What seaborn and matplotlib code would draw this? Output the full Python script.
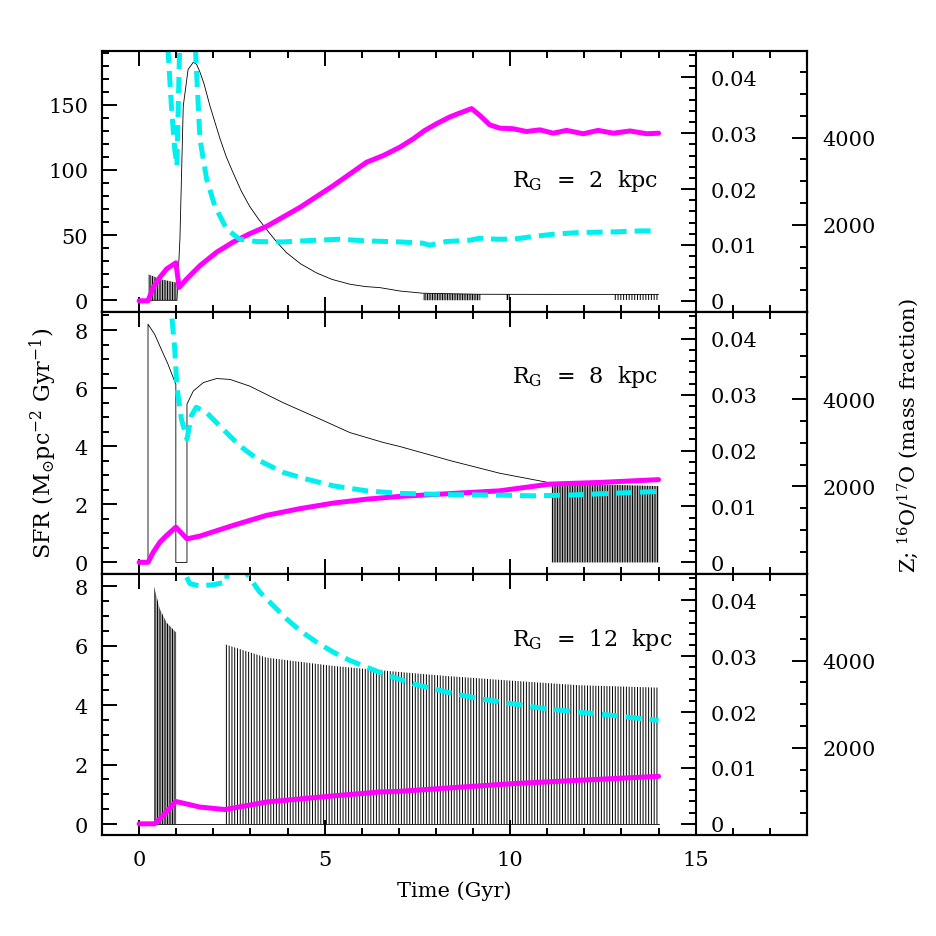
import matplotlib
matplotlib.use('Agg')
import matplotlib.pyplot as plt
import seaborn as sns
from matplotlib.ticker import MultipleLocator, FixedLocator, FuncFormatter

# ---------------- data ----------------
# R_G = 2 kpc : star formation rate (thin black)
sfr2_t = [0.0, 0.24, 1.02, 1.10, 1.19, 1.32, 1.46, 1.55, 1.64, 1.75, 1.91, 2.05, 2.18, 2.35,
          2.53, 2.75, 2.98, 3.2, 3.43, 3.7, 3.97, 4.35, 4.78, 5.2, 5.68, 6.1, 6.49, 7.03,
          7.65, 9.18, 11.0, 14.0]
sfr2 = [0, 0, 0, 47, 149, 177, 182.6, 181, 175, 166, 149, 136, 124, 110,
        98, 84, 72, 63, 54.5, 45, 36.6, 28, 21, 16, 12.3, 10.5, 9.7, 7.1,
        5.4, 4.6, 4.5, 4.5]
# bursty intervals (SFR switching on/off): times, envelope, hatch density
burst2_t = [[0.24, 0.6, 1.02], [7.65, 9.2], [9.9, 10.0], [12.8, 14.0]]
burst2_top = [[20, 16, 13.5], [5.2, 4.6], [4.6, 4.6], [4.5, 4.5]]
burst2_dens = [10, 10, 10, 6]

# metallicity Z (magenta)
z2_t = [0, 0.24, 0.38, 0.56, 0.74, 0.99, 1.08, 1.28, 1.64, 2.09, 2.53, 2.98, 3.43, 4.33,
        5.23, 6.13, 6.58, 7.03, 7.39, 7.7, 8.02, 8.37, 8.64, 8.96, 9.18, 9.45, 9.72,
        10.08, 10.44, 10.8, 11.16, 11.52, 11.97, 12.37, 12.78, 13.23, 13.68, 14.0]
z2 = [0, 0, 0.0024, 0.0042, 0.0057, 0.0068, 0.0024, 0.0039, 0.0063, 0.0087, 0.0105,
      0.012, 0.0133, 0.0167, 0.0206, 0.0248, 0.026, 0.0275, 0.029, 0.0305, 0.0317,
      0.0329, 0.0336, 0.0344, 0.0332, 0.0315, 0.0309, 0.0308, 0.0303, 0.0306, 0.030,
      0.0305, 0.0299, 0.0305, 0.030, 0.0304, 0.0299, 0.030]
# 16O/17O (cyan dashed)
r2_t = [0.70, 0.78, 0.87, 0.96, 1.02, 1.09, 1.2, 1.45, 1.52, 1.64, 1.82, 2.04, 2.36, 2.71,
        3.16, 3.88, 4.78, 5.41, 6.13, 7.03, 7.65, 7.83, 8.28, 8.91, 9.18, 9.63, 10.08,
        10.53, 11.16, 11.88, 12.78, 13.5, 14.0]
r2 = [9000, 6000, 4732, 3737, 3354, 6000, 8000, 8000, 6000, 3967, 3048, 2435, 1900, 1670,
      1617, 1608, 1647, 1670, 1631, 1608, 1578, 1532, 1617, 1647, 1693, 1670, 1670,
      1723, 1785, 1824, 1838, 1861, 1861]

# R_G = 8 kpc
sfr8_t = [0, 0.24, 0.24, 0.42, 0.60, 0.78, 0.99, 0.99, 1.29, 1.29, 1.46, 1.73, 2.09, 2.45,
          2.98, 3.88, 4.78, 5.68, 6.58, 7.03, 8.4, 9.72, 11.12]
sfr8 = [0, 0, 8.2, 7.85, 7.33, 6.82, 6.13, 0, 0, 5.45, 5.9, 6.19, 6.33, 6.3,
        6.07, 5.5, 4.99, 4.47, 4.13, 3.99, 3.5, 3.07, 2.73]
burst8_t = [[11.12, 12.5, 14.0]]
burst8_top = [[2.73, 2.68, 2.63]]
burst8_dens = [10]
z8_t = [0, 0.24, 0.38, 0.56, 0.74, 0.99, 1.29, 1.64, 2.53, 3.43, 4.33, 5.23, 6.13, 7.03,
        9.72, 11.07, 12.42, 14.0]
z8 = [0, 0, 0.0018, 0.0036, 0.0048, 0.0063, 0.0042, 0.0047, 0.0066, 0.0084, 0.0096,
      0.0106, 0.0113, 0.0118, 0.0128, 0.0140, 0.0143, 0.0148]
r8_t = [0.80, 0.87, 0.96, 1.02, 1.14, 1.29, 1.41, 1.54, 1.81, 2.17, 2.71, 3.25, 3.88, 4.51,
        5.23, 6.13, 7.03, 8.4, 9.72, 10.62, 11.52, 12.87, 14.0]
r8 = [7500, 6000, 5153, 4272, 3544, 3085, 3620, 3813, 3698, 3390, 2931, 2586, 2320, 2166,
      2012, 1897, 1838, 1810, 1798, 1782, 1798, 1844, 1883]

# R_G = 12 kpc
sfr12_t = [0, 14.0]
sfr12 = [0, 0]
burst12_t = [[0.40, 0.56, 0.74, 1.0],
             [2.31, 3.43, 5.23, 6.98, 8.29, 10.08, 11.88, 14.0]]
burst12_top = [[8.0, 7.23, 6.78, 6.44],
               [6.05, 5.6, 5.32, 5.12, 4.98, 4.82, 4.67, 4.59]]
burst12_dens = [10, 6]
z12_t = [0, 0.42, 0.65, 0.99, 1.64, 2.31, 3.43, 5.23, 6.49, 6.98, 10.08, 14.0]
z12 = [0, 0, 0.0015, 0.0040, 0.0030, 0.00256, 0.0039, 0.005, 0.0057, 0.0058, 0.0072, 0.0085]
r12_t = [1.10, 1.23, 1.37, 1.64, 2.0, 2.36, 2.42, 2.85, 2.9, 3.25, 3.61, 3.97, 4.33, 4.78,
         5.23, 5.68, 6.13, 6.58, 6.98, 7.39, 8.29, 9.18, 10.08, 10.98, 11.88, 12.78, 14.0]
r12 = [7000, 6000, 5765, 5713, 5743, 5804, 7000, 7000, 6000, 5575, 5267, 4962, 4693, 4426,
       4197, 4004, 3852, 3698, 3583, 3468, 3278, 3124, 3009, 2894, 2818, 2742, 2627]

panel_labels = ['2', '8', '12']
sfr_lims = [(-9, 191.6), (-0.38, 8.62), (-0.37, 8.43)]
sfr_major = [50, 2, 2]
sfr_minor = [10, 0.5, 0.5]
label_y = [88, 6.2, 6.02]
z_lims = (-0.002, 0.0448)
ratio_lims = (0, 6000)

panels = [
    (sfr2_t, sfr2, burst2_t, burst2_top, burst2_dens, z2_t, z2, r2_t, r2),
    (sfr8_t, sfr8, burst8_t, burst8_top, burst8_dens, z8_t, z8, r8_t, r8),
    (sfr12_t, sfr12, burst12_t, burst12_top, burst12_dens, z12_t, z12, r12_t, r12),
]

# ---------------- style ----------------
sns.set_style('ticks')
plt.rcParams['font.family'] = ['DejaVu Serif']
plt.rcParams['mathtext.fontset'] = 'dejavuserif'
plt.rcParams['hatch.linewidth'] = 0.7
plt.rcParams['hatch.color'] = 'black'
plt.rcParams['axes.linewidth'] = 1.5
for key in ['axes.edgecolor', 'axes.labelcolor', 'text.color', 'xtick.color', 'ytick.color']:
    plt.rcParams[key] = 'black'

FS = 15
MAGENTA = '#ff00ff'
CYAN = '#00f0f0'

fig = plt.figure(figsize=(9.37, 9.37), dpi=100)
gs = fig.add_gridspec(3, 1, left=102 / 937, right=807 / 937,
                      top=1 - 51.5 / 937, bottom=1 - 836 / 937, hspace=0)

for i, (st, sv, bt, btop, bdens, zt, zv, rt, rv) in enumerate(panels):
    ax = fig.add_subplot(gs[i])
    ax.set_xlim(-1, 18)
    ax.set_ylim(*sfr_lims[i])

    # star formation rate
    sns.lineplot(x=st, y=sv, ax=ax, estimator=None, sort=False, color='black', linewidth=0.6)
    for t_b, top_b, n in zip(bt, btop, bdens):
        ax.fill_between(t_b, 0, top_b, facecolor='none', edgecolor='black',
                        hatch='|' * n, linewidth=0)

    ax.xaxis.set_major_locator(MultipleLocator(5))
    ax.xaxis.set_minor_locator(MultipleLocator(1))
    ax.yaxis.set_major_locator(MultipleLocator(sfr_major[i]))
    ax.yaxis.set_minor_locator(MultipleLocator(sfr_minor[i]))
    ax.yaxis.set_major_formatter(FuncFormatter(lambda v, p: f'{v:g}'))
    ax.tick_params(which='both', direction='in', top=True, bottom=True, left=True,
                   right=False, width=1.4, labelsize=FS)
    ax.tick_params(which='major', length=11)
    ax.tick_params(which='minor', length=5)
    ax.tick_params(axis='y', pad=10)
    ax.tick_params(axis='x', pad=11)
    ax.set_xlabel('')
    ax.set_ylabel('')
    if i < 2:
        ax.tick_params(axis='x', labelbottom=False)
    else:
        ax.set_xlabel('Time (Gyr)', fontsize=FS, labelpad=8)

    # metallicity axis: spine at t = 15
    axz = ax.inset_axes([0, 0, 16 / 19, 1])
    axz.patch.set_alpha(0)
    for s in ['left', 'top', 'bottom']:
        axz.spines[s].set_visible(False)
    axz.spines['right'].set_linewidth(1.5)
    sns.lineplot(x=zt, y=zv, ax=axz, estimator=None, sort=False, color=MAGENTA, linewidth=3.6)
    axz.set_xlim(-1, 15)
    axz.set_ylim(*z_lims)
    axz.set_xticks([])
    axz.set_xlabel('')
    axz.set_ylabel('')
    axz.yaxis.set_ticks_position('right')
    axz.yaxis.set_major_locator(MultipleLocator(0.01))
    axz.yaxis.set_minor_locator(MultipleLocator(0.002))
    axz.yaxis.set_major_formatter(FuncFormatter(lambda v, p: '0' if abs(v) < 1e-9 else f'{v:.2f}'))
    axz.tick_params(axis='y', which='both', direction='in', right=True, left=False,
                    labelright=True, labelleft=False, width=1.4, labelsize=FS, pad=11)
    axz.tick_params(axis='y', which='major', length=11)
    axz.tick_params(axis='y', which='minor', length=5)

    # 16O/17O axis on the far right
    axr = ax.twinx()
    sns.lineplot(x=rt, y=rv, ax=axr, estimator=None, sort=False, color=CYAN,
                 linewidth=3.6, dashes=False)
    axr.lines[-1].set_dashes((3.2, 1.6))
    axr.set_ylim(*ratio_lims)
    axr.set_ylabel('')
    axr.yaxis.set_major_locator(FixedLocator([2000, 4000]))
    axr.yaxis.set_minor_locator(MultipleLocator(500))
    axr.tick_params(axis='y', which='both', direction='in', width=1.4, labelsize=FS, pad=11)
    axr.tick_params(axis='y', which='major', length=11)
    axr.tick_params(axis='y', which='minor', length=5)

    ax.text(10.05, label_y[i], r'R$_{\rm G}$  =  ' + panel_labels[i] + '  kpc',
            fontsize=16, ha='left', va='baseline', zorder=10)

fig.text(43 / 937, 1 - 443 / 937, r'SFR (M$_{\odot}$pc$^{-2}$ Gyr$^{-1}$)',
         rotation=90, ha='center', va='center', fontsize=16)
fig.text(908 / 937, 1 - 436 / 937, r'Z; $^{16}$O/$^{17}$O (mass fraction)',
         rotation=90, ha='center', va='center', fontsize=FS)

fig.savefig('out.png', dpi=100)
